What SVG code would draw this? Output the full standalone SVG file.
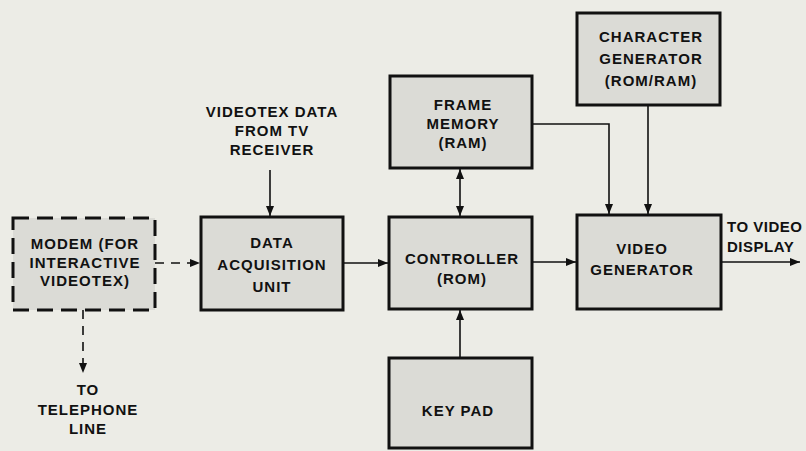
<svg xmlns="http://www.w3.org/2000/svg" width="806" height="451" viewBox="0 0 806 451">
<style>
.bg{fill:#ecece6}
.box{fill:#dbdbd6;stroke:#111;stroke-width:3}
.dash{stroke-dasharray:16 8}
.t{font-family:"Liberation Sans",Arial,sans-serif;font-weight:bold;font-size:15px;letter-spacing:1px;fill:#111;text-anchor:middle}
.s{text-anchor:start;letter-spacing:0.5px}
.l{fill:none;stroke:#111;stroke-width:1.6}
.ld{stroke-dasharray:9 7}
</style>
<defs>
<marker id="ah" viewBox="0 0 10 8" refX="10" refY="4" markerWidth="10" markerHeight="8" markerUnits="userSpaceOnUse" orient="auto-start-reverse">
<path d="M0,0 L10,4 L0,8 z" fill="#111"/>
</marker>
</defs>
<rect class="bg" width="806" height="451"/>
<g id="connectors">
<path class="l ld" d="M155,263 H200" marker-end="url(#ah)"/>
<path class="l ld" d="M83,310 V373" marker-end="url(#ah)"/>
<path class="l" d="M270,170 V216" marker-end="url(#ah)"/>
<path class="l" d="M343,263 H388" marker-end="url(#ah)"/>
<path class="l" d="M460,169 V216" marker-start="url(#ah)" marker-end="url(#ah)"/>
<path class="l" d="M460,358 V310" marker-end="url(#ah)"/>
<path class="l" d="M532,262 H576" marker-end="url(#ah)"/>
<path class="l" d="M532,124 H609 V214" marker-end="url(#ah)"/>
<path class="l" d="M648,105 V214" marker-end="url(#ah)"/>
<path class="l" d="M721,262 H800" marker-end="url(#ah)"/>
</g>
<g id="modem">
<rect class="box dash" x="13" y="218" width="142" height="92"/>
<text class="t" x="85" y="249">MODEM (FOR</text>
<text class="t" x="85" y="268">INTERACTIVE</text>
<text class="t" x="85" y="286">VIDEOTEX)</text>
</g>
<g id="telephone">
<text class="t" x="88" y="395">TO</text>
<text class="t" x="88" y="415">TELEPHONE</text>
<text class="t" x="88" y="434">LINE</text>
</g>
<g id="tvdata">
<text class="t" x="272" y="117">VIDEOTEX DATA</text>
<text class="t" x="272" y="136">FROM TV</text>
<text class="t" x="272" y="155">RECEIVER</text>
</g>
<g id="dau">
<rect class="box" x="201" y="217" width="142" height="93"/>
<text class="t" x="272" y="248">DATA</text>
<text class="t" x="272" y="270">ACQUISITION</text>
<text class="t" x="272" y="292">UNIT</text>
</g>
<g id="frame">
<rect class="box" x="390" y="76" width="142" height="92"/>
<text class="t" x="463" y="110">FRAME</text>
<text class="t" x="463" y="129">MEMORY</text>
<text class="t" x="463" y="148">(RAM)</text>
</g>
<g id="chargen">
<rect class="box" x="577" y="13" width="143" height="92"/>
<text class="t" x="651" y="42">CHARACTER</text>
<text class="t" x="651" y="64">GENERATOR</text>
<text class="t" x="651" y="86">(ROM/RAM)</text>
</g>
<g id="controller">
<rect class="box" x="389" y="217" width="143" height="92"/>
<text class="t" x="462" y="264">CONTROLLER</text>
<text class="t" x="462" y="284">(ROM)</text>
</g>
<g id="videogen">
<rect class="box" x="577" y="215" width="144" height="94"/>
<text class="t" x="642" y="254">VIDEO</text>
<text class="t" x="642" y="275">GENERATOR</text>
</g>
<g id="display">
<text class="t s" x="727" y="232">TO VIDEO</text>
<text class="t s" x="727" y="252">DISPLAY</text>
</g>
<g id="keypad">
<rect class="box" x="389" y="358" width="143" height="90"/>
<text class="t" x="458" y="416">KEY PAD</text>
</g>
</svg>
